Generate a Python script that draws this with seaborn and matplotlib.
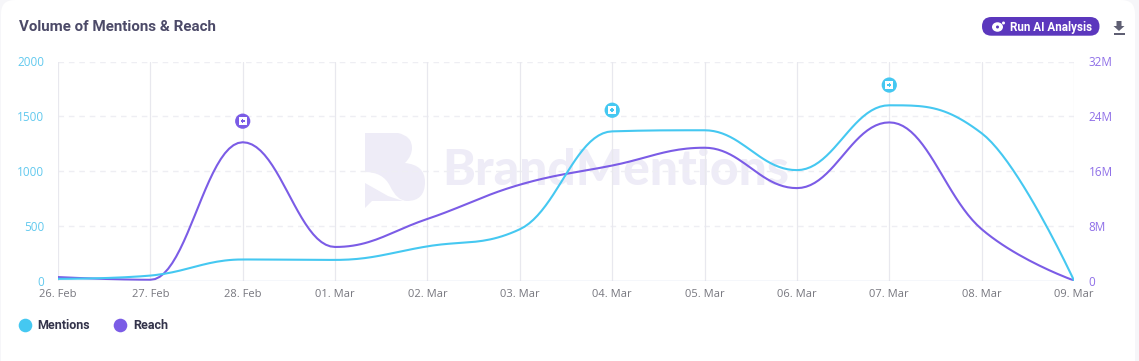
import matplotlib as mtl
mtl.use('Agg')
import numpy as np
import seaborn as sns
import matplotlib.pyplot as plt
from matplotlib.lines import Line2D
from matplotlib.path import Path
from matplotlib.patches import FancyBboxPatch, Polygon, Ellipse, Rectangle, PathPatch

days = ['26. Feb', '27. Feb', '28. Feb', '01. Mar', '02. Mar', '03. Mar',
        '04. Mar', '05. Mar', '06. Mar', '07. Mar', '08. Mar', '09. Mar']
mentions = [15, 45, 192, 188, 312, 468, 1362, 1372, 1008, 1600, 1345, 0]
reach = [0.5, 0.1, 20.2, 4.9, 9.0, 14.0, 16.8, 19.4, 13.5, 23.1, 7.5, 0]

flag_days = [2, 6, 9]
flag_values = [1455, 1555, 1785]
flag_colors = ['#7b5ce6', '#45c8f1', '#45c8f1']

left_ticks = [0, 500, 1000, 1500, 2000]
right_ticks = [0, 8, 16, 24, 32]
right_labels = ['0', '8M', '16M', '24M', '32M']

CYAN = '#45c8f1'
PURPLE = '#7b5ce6'
WATER = '#eeecf7'
W, H = 1139, 361


def fx(px):
    return px / W


def fy(py):
    return 1 - py / H


def spline(values, smoothing=1.5, steps=24):
    # same control point rule as the spline series of the web chart
    n = len(values)
    xs, ys = [], []
    right = [(0.0, values[0])]
    left = [None]
    for i in range(1, n - 1):
        y = values[i]
        last, nxt = values[i - 1], values[i + 1]
        lx = (smoothing * i + i - 1) / (smoothing + 1)
        ly = (smoothing * y + last) / (smoothing + 1)
        rx = (smoothing * i + i + 1) / (smoothing + 1)
        ry = (smoothing * y + nxt) / (smoothing + 1)
        c = (ry - ly) * (rx - i) / (rx - lx) + y - ry
        ly += c
        ry += c
        if ly > last and ly > y:
            ly = max(last, y)
            ry = 2 * y - ly
        elif ly < last and ly < y:
            ly = min(last, y)
            ry = 2 * y - ly
        if ry > nxt and ry > y:
            ry = max(nxt, y)
            ly = 2 * y - ry
        elif ry < nxt and ry < y:
            ry = min(nxt, y)
            ly = 2 * y - ry
        left.append((lx, ly))
        right.append((rx, ry))
    left.append((n - 1.0, values[-1]))
    t = np.linspace(0, 1, steps)
    for i in range(n - 1):
        p0, p1, p2, p3 = (i, values[i]), right[i], left[i + 1], (i + 1, values[i + 1])
        xs.extend((1-t)**3*p0[0] + 3*(1-t)**2*t*p1[0] + 3*(1-t)*t**2*p2[0] + t**3*p3[0])
        ys.extend((1-t)**3*p0[1] + 3*(1-t)**2*t*p1[1] + 3*(1-t)*t**2*p2[1] + t**3*p3[1])
    return np.array(xs), np.array(ys)


sns.set_theme(style='white')
plt.rcParams['font.family'] = ['Open Sans', 'DejaVu Sans']

fig = plt.figure(figsize=(W / 100, H / 100), dpi=100, facecolor='#f6f6f9')
fig.add_artist(FancyBboxPatch((fx(1), fy(400)), fx(1134), 400 / H, transform=fig.transFigure,
                              boxstyle='round,pad=0,rounding_size=0.012', mutation_aspect=W / H,
                              fc='white', ec='none', zorder=-5))

# watermark logo
P = [(365, 133), (398, 133), (398, 133), (412, 136), (412, 148), (412, 156), (405, 163),
     (425, 165), (425, 182), (425, 201), (407, 201), (397, 201), (390, 186), (383, 172), (365, 172), (365, 133)]
C = [Path.MOVETO, Path.LINETO, Path.LINETO, Path.CURVE3, Path.LINETO, Path.CURVE3, Path.CURVE3,
     Path.CURVE3, Path.CURVE3, Path.CURVE3, Path.CURVE3, Path.CURVE3, Path.CURVE3, Path.CURVE3, Path.CURVE3, Path.CLOSEPOLY]
fig.add_artist(PathPatch(Path([(fx(a), fy(b)) for a, b in P], C), transform=fig.transFigure, fc=WATER, ec='none', zorder=-1))
fig.add_artist(Polygon([(fx(365), fy(183)), (fx(388), fy(196)), (fx(403), fy(201)), (fx(372), fy(201)), (fx(365), fy(208))],
                       transform=fig.transFigure, fc=WATER, ec='none', zorder=-1))
fig.text(fx(442), fy(185), 'BrandMentions', family='Lato', weight='black',
         fontsize=35.8, color=WATER, va='baseline', ha='left', zorder=-1)

ax = fig.add_axes([fx(58), fy(280.5), fx(1016), 219 / H], facecolor='none')
ax2 = ax.twinx()
ax.set_zorder(2)
ax2.set_zorder(1)
ax2.patch.set_visible(False)

x_m, y_m = spline(mentions)
x_r, y_r = spline(reach)
sns.lineplot(x=x_r, y=y_r, ax=ax2, color=PURPLE, lw=1.5, sort=False, estimator=None, zorder=3)
sns.lineplot(x=x_m, y=y_m, ax=ax, color=CYAN, lw=1.5, sort=False, estimator=None, zorder=3)

# flags
sns.scatterplot(x=flag_days, y=flag_values, ax=ax, hue=flag_days, palette=flag_colors, legend=False,
                s=120, linewidth=0, zorder=5, clip_on=False)
sns.scatterplot(x=flag_days, y=flag_values, ax=ax, color='white', marker='s', s=28, linewidth=0, zorder=6)
sns.scatterplot(x=flag_days, y=flag_values, ax=ax, hue=flag_days, palette=flag_colors, legend=False,
                marker='P', s=10, linewidth=0, zorder=7)

ax.set_xlim(0, 11)
ax.set_ylim(0, 2000)
ax2.set_ylim(0, 32)
ax.set_xticks(range(12))
ax.set_xticklabels(days)
ax.set_yticks(left_ticks)
ax2.set_yticks(right_ticks)
ax2.set_yticklabels(right_labels)
ax.set_xlabel('')
ax.set_ylabel('')
ax2.set_ylabel('')

ax.tick_params(axis='x', length=0, pad=6, labelsize=8, labelcolor='#77777f')
ax.tick_params(axis='y', length=0, pad=10, labelsize=8.5, labelcolor='#62c9ee')
ax2.tick_params(axis='y', length=0, pad=10.5, labelsize=8.5, labelcolor='#8f6fe8')

ax2.grid(False)
ax.grid(False)
for v in left_ticks[1:]:
    ax2.axhline(v / 2000 * 32, color='#eeeef3', lw=1, ls=(0, (4, 3.5)), zorder=1)
for i in range(12):
    ax2.axvline(i, color='#e8e8ee', lw=0.9, zorder=1)
ax.axhline(0, color='#d0d8ec', lw=1, zorder=2)
for a in (ax, ax2):
    for s in a.spines.values():
        s.set_visible(False)

fig.text(fx(19), fy(31), 'Volume of Mentions & Reach', family='Roboto', weight='bold',
         fontsize=10.9, color='#4c4a68', va='baseline')

# button and download icon
fig.add_artist(FancyBboxPatch((fx(982), fy(35.7)), fx(117.5), 18.7 / H, transform=fig.transFigure,
                              boxstyle='round,pad=0,rounding_size=0.0082', mutation_aspect=W / H,
                              fc='#5b37bd', ec='none'))
fig.text(fx(1010.5), fy(30.5), 'Run AI Analysis', family='Roboto', weight='bold', fontsize=8.4,
         color='white', va='baseline')
fig.add_artist(Ellipse((fx(997.5), fy(27)), 11 / W, 9.5 / H, transform=fig.transFigure, fc='white', ec='none'))
fig.add_artist(Ellipse((fx(997.5), fy(27)), 3 / W, 3 / H, transform=fig.transFigure, fc='#5b37bd', ec='none'))
fig.add_artist(Ellipse((fx(1003.5), fy(23)), 3 / W, 3 / H, transform=fig.transFigure, fc='white', ec='none'))
fig.add_artist(Polygon([(fx(1116.5), fy(21)), (fx(1121.5), fy(21)), (fx(1121.5), fy(26)),
                        (fx(1124.5), fy(26)), (fx(1119), fy(31)), (fx(1113.5), fy(26)), (fx(1116.5), fy(26))],
                       transform=fig.transFigure, fc='#5f5f73', ec='none'))
fig.add_artist(Rectangle((fx(1113.5), fy(35)), fx(11), 1.6 / H, transform=fig.transFigure, fc='#5f5f73', ec='none'))

handles = [Line2D([], [], ls='none', marker='o', ms=9.8, mfc=CYAN, mec='none', label='Mentions'),
           Line2D([], [], ls='none', marker='o', ms=9.8, mfc=PURPLE, mec='none', label='Reach')]
fig.legend(handles=handles, loc='center left', bbox_to_anchor=(fx(12), fy(325.5)), ncols=2, frameon=False,
           prop={'family': 'Roboto', 'weight': 'bold', 'size': 9}, labelcolor='#33334a',
           handletextpad=0.05, columnspacing=1.35, borderpad=0, borderaxespad=0)

fig.savefig('out.png', dpi=100, facecolor=fig.get_facecolor())
